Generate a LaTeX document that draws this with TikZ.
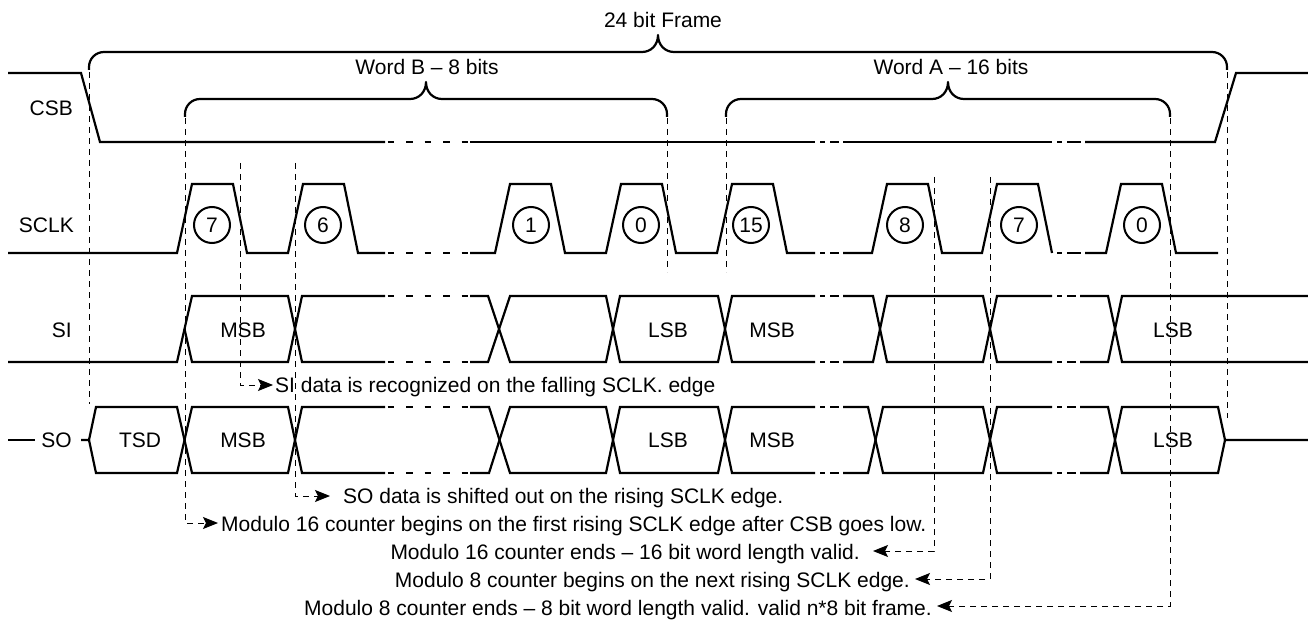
\documentclass[tikz,border=0pt]{standalone}
\usepackage{fontspec}
\setmainfont{Liberation Sans}
\usetikzlibrary{arrows.meta}
\newcommand\dgap[3]{\draw[sig,dash pattern=on 6.5pt off 12pt] (#1+2.5,#3) -- (#2-1.5,#3);}
\newcommand\ddgap[3]{\draw[sig] (#1+5,#3) -- (#1+10,#3); \draw[sig] (#1+15,#3) -- (#2-4,#3);}
\newcommand\pls[1]{(#1-35,253) -- (#1-20,184) -- (#1+21,184) -- (#1+35,253)}
\newcommand\brc[5]{\draw[sig,line join=round] (#1,#5) -- (#1,#4+15) .. controls (#1,#4+6.7) and (#1+6.7,#4) .. (#1+15,#4) -- (#3-16,#4) .. controls (#3-7,#4) and (#3,#4-7) .. (#3,#4-17) .. controls (#3,#4-7) and (#3+7,#4) .. (#3+16,#4) -- (#2-15,#4) .. controls (#2-6.7,#4) and (#2,#4+6.7) .. (#2,#4+15) -- (#2,#5);}
\begin{document}
\begin{tikzpicture}[x=1pt,y=-1pt,
  sig/.style={line width=2.2pt},
  guide/.style={line width=1pt, dash pattern=on 6pt off 5pt},
  arr/.style={guide, -{Stealth[length=15pt 0,width=12pt 0,inset=3pt 0]}},
  lbl/.style={font=\fontsize{21}{25}\selectfont, inner sep=0pt},
  num/.style={draw, circle, line width=2pt, minimum size=36pt, inner sep=0pt, font=\fontsize{21}{25}\selectfont}]
\useasboundingbox (0,0) rectangle (1308,620);
\fill[white] (0,0) rectangle (1308,620);

% braces and titles
\brc{89}{1227}{658}{52}{70}
\brc{185}{667}{426}{99}{117}
\brc{726}{1170}{948}{99}{117}
\node[lbl, anchor=base] (frame) at (663,28) {24 bit Frame};
\node[lbl, anchor=base] (wordb) at (427,75) {Word B – 8 bits};
\node[lbl, anchor=base] (worda) at (951,75) {Word A – 16 bits};

% signal names
\node[lbl, anchor=base east] (csb) at (73,116) {CSB};
\node[lbl, anchor=base east] (sclk) at (74,233) {SCLK};
\node[lbl, anchor=base east] (si) at (72,337) {SI};
\node[lbl, anchor=base east] (so) at (72,447) {SO};

% CSB
\draw[sig] (8,73) -- (81,73) -- (100,142) -- (385,142);
\dgap{385}{470}{142}
\draw[sig] (470,142) -- (815,142);
\ddgap{815}{843}{142}
\draw[sig] (843,142) -- (1052,142);
\ddgap{1052}{1085}{142}
\draw[sig] (1085,142) -- (1215,142) -- (1236,73) -- (1308,73);

% SCLK
\draw[sig] (8,253) -- \pls{212} -- \pls{323} -- (385,253);
\dgap{385}{470}{253}
\draw[sig] (470,253) -- \pls{530} -- \pls{641} -- \pls{752} -- (815,253);
\ddgap{815}{843}{253}
\draw[sig] (843,253) -- \pls{907} -- \pls{1017} -- (1052,253);
\ddgap{1052}{1085}{253}
\draw[sig] (1085,253) -- \pls{1141} -- (1218,253);
\node[num] (k1) at (212,225) {7};
\node[num] (k2) at (323,225) {6};
\node[num] (k3) at (531,225) {1};
\node[num] (k4) at (641,225) {0};
\node[num] (k5) at (751,225) {15};
\node[num] (k6) at (905,225) {8};
\node[num] (k7) at (1019,225) {7};
\node[num] (k8) at (1142,225) {0};

% SI
\draw[sig] (8,362) -- (177,362) -- (192,296) -- (288,296) -- (302,362) -- (385,362);
\draw[sig] (184.5,329) -- (192,362) -- (288,362) -- (302,296) -- (385,296);
\dgap{385}{470}{296}
\dgap{385}{470}{362}
\draw[sig] (470,296) -- (488,296) -- (510,362) -- (606,362) -- (620,296) -- (718,296) -- (732,362) -- (815,362);
\draw[sig] (470,362) -- (488,362) -- (510,296) -- (606,296) -- (620,362) -- (718,362) -- (732,296) -- (815,296);
\ddgap{815}{843}{296}
\ddgap{815}{843}{362}
\draw[sig] (843,296) -- (873,296) -- (887,362) -- (983,362) -- (997,296) -- (1052,296);
\draw[sig] (843,362) -- (873,362) -- (887,296) -- (983,296) -- (997,362) -- (1052,362);
\ddgap{1052}{1080}{296}
\ddgap{1052}{1080}{362}
\draw[sig] (1080,296) -- (1108,296) -- (1122,362) -- (1308,362);
\draw[sig] (1080,362) -- (1108,362) -- (1122,296) -- (1308,296);
\node[lbl, anchor=base] (si1) at (243,337) {MSB};
\node[lbl, anchor=base] (si2) at (668,337) {LSB};
\node[lbl, anchor=base] (si3) at (772,337) {MSB};
\node[lbl, anchor=base] (si4) at (1173,337) {LSB};

% SO
\draw[sig] (8,440) -- (35,440);
\draw[sig] (81,440) -- (89,440) -- (96,407) -- (177,407) -- (192,473) -- (288,473) -- (302,407) -- (385,407);
\draw[sig] (89,440) -- (96,473) -- (177,473) -- (192,407) -- (288,407) -- (302,473) -- (385,473);
\dgap{385}{470}{407}
\dgap{385}{470}{473}
\draw[sig] (470,407) -- (489,407) -- (510,473) -- (606,473) -- (620,407) -- (718,407) -- (732,473) -- (815,473);
\draw[sig] (470,473) -- (489,473) -- (510,407) -- (606,407) -- (620,473) -- (718,473) -- (732,407) -- (815,407);
\ddgap{815}{843}{407}
\ddgap{815}{843}{473}
\draw[sig] (843,407) -- (868,407) -- (883,473) -- (983,473) -- (997,407) -- (1052,407);
\draw[sig] (843,473) -- (868,473) -- (883,407) -- (983,407) -- (997,473) -- (1052,473);
\ddgap{1052}{1080}{407}
\ddgap{1052}{1080}{473}
\draw[sig] (1080,407) -- (1108,407) -- (1122,473) -- (1218,473) -- (1225,440) -- (1308,440);
\draw[sig] (1080,473) -- (1108,473) -- (1122,407) -- (1218,407) -- (1225,440);
\node[lbl, anchor=base] (so0) at (140,447) {TSD};
\node[lbl, anchor=base] (so1) at (243,447) {MSB};
\node[lbl, anchor=base] (so2) at (668,447) {LSB};
\node[lbl, anchor=base] (so3) at (772,447) {MSB};
\node[lbl, anchor=base] (so4) at (1173,447) {LSB};

% notes
\node[lbl, anchor=base west] (sitxt) at (275,392) {SI data is recognized on the falling SCLK. edge};
\node[lbl, anchor=base west] (sotxt) at (343,503) {SO data is shifted out on the rising SCLK edge.};
\node[lbl, anchor=base west] (m16b) at (221,531) {Modulo 16 counter begins on the first rising SCLK edge after CSB goes low.};
\node[lbl, anchor=base east] (m16e) at (860,559) {Modulo 16 counter ends – 16 bit word length valid.};
\node[lbl, anchor=base east] (m8b) at (910,587) {Modulo 8 counter begins on the next rising SCLK edge.};
\node[lbl, anchor=base east] (m8e) at (932,615) {Modulo 8 counter ends – 8 bit word length valid. valid n*8 bit frame.};

% guide lines
\coordinate (g1a) at (89,72);   \coordinate (g1b) at (89,404);
\coordinate (g2a) at (667,118); \coordinate (g2b) at (667,272);
\coordinate (g3a) at (726,118); \coordinate (g3b) at (726,272);
\coordinate (g4a) at (1227,72); \coordinate (g4b) at (1227,418);
\draw[guide] (g1a) -- (g1b);
\draw[guide] (g2a) -- (g2b);
\draw[guide] (g3a) -- (g3b);
\draw[guide] (g4a) -- (g4b);
\coordinate (a1s) at (240,163);  \coordinate (a1e) at (273,385);
\coordinate (a2s) at (295,163);  \coordinate (a2e) at (330,496);
\coordinate (a3s) at (185,118);  \coordinate (a3e) at (218,523);
\coordinate (a4s) at (934,177);  \coordinate (a4e) at (873,551);
\coordinate (a5s) at (990,177);  \coordinate (a5e) at (915,579);
\coordinate (a6s) at (1170,118); \coordinate (a6e) at (937,606);
\draw[arr] (a1s) |- (a1e);
\draw[arr] (a2s) |- (a2e);
\draw[arr] (a3s) |- (a3e);
\draw[arr] (a4s) |- (a4e);
\draw[arr] (a5s) |- (a5e);
\draw[arr] (a6s) |- (a6e);
\end{tikzpicture}
\end{document}
